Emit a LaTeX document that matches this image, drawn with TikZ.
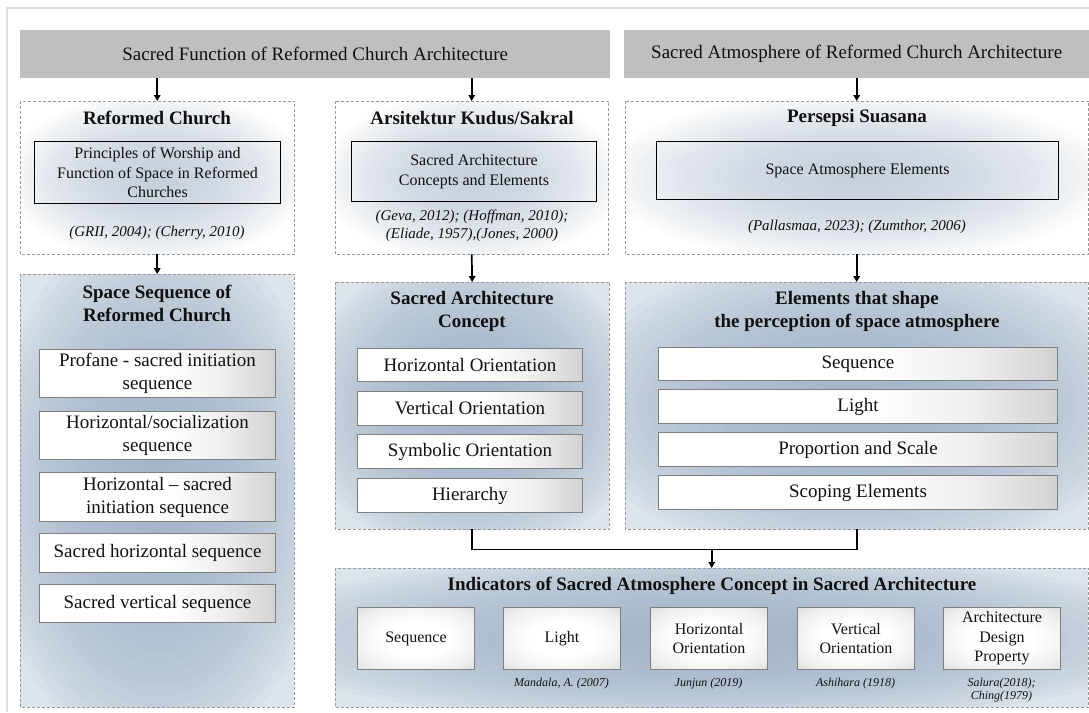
\documentclass[tikz,border=0pt]{standalone}
\usepackage{fontspec}
\setmainfont{Liberation Serif}
\usetikzlibrary{arrows.meta}
\definecolor{bannergray}{HTML}{BFBFBF}
\definecolor{dashgray}{HTML}{9A9A9A}
\definecolor{framegray}{HTML}{DDDDDD}
\definecolor{upin}{HTML}{BCC9D8}
\definecolor{lowin}{HTML}{A2B5CA}
\definecolor{lowout}{HTML}{DDE4EB}
\definecolor{itemedge}{HTML}{7F7F7F}
\definecolor{itemgray}{HTML}{D2D2D2}
\definecolor{itemlight}{HTML}{EFEFEF}
\definecolor{indgray}{HTML}{DCDCDC}
\definecolor{txt}{HTML}{111111}
\pgfdeclarehorizontalshading{itemshade}{100bp}{color(0bp)=(white); color(25bp)=(white); color(52bp)=(white); color(64bp)=(itemlight); color(75bp)=(itemgray); color(100bp)=(itemgray)}
\pgfdeclareradialshading{indshade}{\pgfpoint{0bp}{0bp}}{color(0bp)=(white); color(14bp)=(white); color(28bp)=(itemlight); color(37bp)=(indgray); color(50bp)=(indgray)}
% #1 node, #2 glow colour, #3 base colour, #4 half width, #5 half height, #6 spread, #7 opacity
\newcommand\glowbox[7]{%
  \begin{scope}
    \clip (#1.north west) rectangle (#1.south east);
    \fill[#3] (#1.north west) rectangle (#1.south east);
    \foreach \k in {1,...,25} {
      \pgfmathsetmacro\grx{#6*#4*\k/25}
      \pgfmathsetmacro\gry{#6*#5*\k/25}
      \fill[#2, opacity=#7] (#1.center) ellipse [x radius=\grx pt, y radius=\gry pt];
    }
  \end{scope}
  \draw[dashbord] (#1.north west) rectangle (#1.south east);
}
\tikzset{
  banner/.style={fill=bannergray, draw=none, anchor=north west, inner sep=0pt, text=txt,
    font=\fontsize{19}{23}\selectfont},
  cont/.style={draw=none, anchor=north west, inner sep=0pt},
  dashbord/.style={draw=dashgray, dash pattern=on 3pt off 2pt, line width=0.8pt},
  ttl/.style={font=\fontsize{19}{23}\selectfont\bfseries, align=center, text=txt, inner sep=0pt},
  inbox/.style={draw=black, line width=1.1pt, anchor=north west, inner sep=0pt, align=center, text=txt,
    font=\fontsize{16}{19.8}\selectfont},
  cite/.style={font=\fontsize{15}{18}\selectfont\itshape, align=center, text=txt, inner sep=0pt},
  item/.style={draw=itemedge, line width=1pt, anchor=north west, inner sep=0pt, align=center, text=txt,
    shade, shading=itemshade, font=\fontsize{19}{23}\selectfont},
  ind/.style={draw=itemedge, line width=1pt, anchor=north west, inner sep=0pt, align=center, text=txt,
    shade, shading=indshade, minimum width=117pt, minimum height=62pt,
    font=\fontsize{16}{19.5}\selectfont},
  smcite/.style={font=\fontsize{12}{13}\selectfont\itshape, align=center, text=txt, inner sep=0pt},
  arr/.style={draw=black, line width=1.7pt, -{Triangle[length=6pt,width=6.5pt]}},
  conn/.style={draw=black, line width=1.7pt}
}
\begin{document}
\begin{tikzpicture}[x=1pt,y=-1pt]
\useasboundingbox (0,0) rectangle (1089,712);
\fill[white] (0,0) rectangle (1089,712);
\draw[framegray, line width=2pt] (7,712) -- (7,8) -- (1089,8);

% banners
\node[banner, minimum width=590pt, minimum height=48pt] (b1) at (20,30) {Sacred Function of Reformed Church Architecture};
\node[banner, minimum width=465pt, minimum height=48pt] (b2) at (624,30) {Sacred Atmosphere of Reformed Church Architecture};

% upper containers
\node[cont, minimum width=274pt, minimum height=153pt] (rc) at (20,101) {};
\node[cont, minimum width=273pt, minimum height=153pt] (ak) at (335,101) {};
\node[cont, minimum width=463pt, minimum height=153pt] (ps) at (625,101) {};
\glowbox{rc}{upin}{white}{137}{76.5}{1.1}{0.06}
\glowbox{ak}{upin}{white}{136.5}{76.5}{1.1}{0.06}
\glowbox{ps}{upin}{white}{231.5}{76.5}{1.1}{0.06}

% lower containers
\node[cont, minimum width=274pt, minimum height=433pt] (ss) at (20,274) {};
\node[cont, minimum width=274pt, minimum height=247pt] (sac) at (335,282) {};
\node[cont, minimum width=463pt, minimum height=247pt] (el) at (625,282) {};
\node[cont, minimum width=753pt, minimum height=139pt] (ib) at (335,568) {};
\glowbox{ss}{lowin}{lowout}{137}{216.5}{1.25}{0.085}
\glowbox{sac}{lowin}{lowout}{137}{123.5}{1.25}{0.085}
\glowbox{el}{lowin}{lowout}{231.5}{123.5}{1.25}{0.085}
\glowbox{ib}{lowin}{lowout}{376.5}{69.5}{1.25}{0.085}

% upper titles
\node[ttl] (rct) at (157,118) {Reformed Church};
\node[ttl] (akt) at (472,118) {Arsitektur Kudus/Sakral};
\node[ttl] (pst) at (857,118) {Persepsi Suasana};

% upper inner boxes
\node[inbox, minimum width=246pt, minimum height=62pt] (rci) at (34,141) {Principles of Worship and\\Function of Space in Reformed\\Churches};
\node[inbox, minimum width=245pt, minimum height=60pt] (aki) at (351,141) {Sacred Architecture\\Concepts and Elements};
\node[inbox, minimum width=402pt, minimum height=58pt] (psi) at (656,141) {Space Atmosphere Elements};

% upper citations
\node[cite] (rcc) at (157,233) {(GRII, 2004); (Cherry, 2010)};
\node[cite] (akc) at (472,226) {(Geva, 2012); (Hoffman, 2010);\\(Eliade, 1957),(Jones, 2000)};
\node[cite] (psc) at (857,227) {(Pallasmaa, 2023); (Zumthor, 2006)};

% lower titles
\node[ttl] (sst) at (157,303.5) {Space Sequence of\\Reformed Church};
\node[ttl] (sact) at (472,311.5) {Sacred Architecture\\Concept};
\node[ttl] (elt) at (857,311.5) {Elements that shape\\the perception of space atmosphere};
\node[ttl] (ibt) at (712,586) {Indicators of Sacred Atmosphere Concept in Sacred Architecture};

% space sequence items
\node[item, minimum width=236pt, minimum height=48pt] (s1) at (39,349) {Profane - sacred initiation\\sequence};
\node[item, minimum width=236pt, minimum height=48pt] (s2) at (39,411) {Horizontal/socialization\\sequence};
\node[item, minimum width=236pt, minimum height=49pt] (s3) at (39,472) {Horizontal -- sacred\\initiation sequence};
\node[item, minimum width=236pt, minimum height=39pt] (s4) at (39,533) {Sacred horizontal sequence};
\node[item, minimum width=236pt, minimum height=38pt] (s5) at (39,584) {Sacred vertical sequence};

% sacred architecture concept items
\node[item, minimum width=225pt, minimum height=33pt] (c1) at (357,348) {Horizontal Orientation};
\node[item, minimum width=225pt, minimum height=34pt] (c2) at (357,391) {Vertical Orientation};
\node[item, minimum width=225pt, minimum height=34pt] (c3) at (357,434) {Symbolic Orientation};
\node[item, minimum width=225pt, minimum height=34pt] (c4) at (357,478) {Hierarchy};

% elements items
\node[item, minimum width=399pt, minimum height=33pt] (e1) at (658,347) {Sequence};
\node[item, minimum width=399pt, minimum height=34pt] (e2) at (658,389) {Light};
\node[item, minimum width=399pt, minimum height=34pt] (e3) at (658,432) {Proportion and Scale};
\node[item, minimum width=399pt, minimum height=34pt] (e4) at (658,475) {Scoping Elements};

% indicator items
\node[ind] (i1) at (357,607) {Sequence};
\node[ind] (i2) at (503,607) {Light};
\node[ind] (i3) at (650,607) {Horizontal\\Orientation};
\node[ind] (i4) at (797,607) {Vertical\\Orientation};
\node[ind] (i5) at (943,607) {Architecture\\Design\\Property};

\node[smcite] (i2c) at (561.5,684) {Mandala, A. (2007)};
\node[smcite] (i3c) at (708.5,684) {Junjun (2019)};
\node[smcite] (i4c) at (855.5,684) {Ashihara (1918)};
\node[smcite] (i5c) at (1001.5,690.5) {Salura(2018);\\Ching(1979)};

% arrows
\draw[arr] (rc.north |- b1.south) -- (rc.north);
\draw[arr] (ak.north |- b1.south) -- (ak.north);
\draw[arr] (ps.north |- b2.south) -- (ps.north);
\draw[arr] (rc.south) -- (ss.north);
\draw[arr] (ak.south) -- (sac.north);
\draw[arr] (ps.south) -- (el.north);
\path (sac.south) ++(0,20) coordinate (jl);
\draw[conn] (sac.south) -- (jl) -| (el.south);
\draw[arr] (ib.north |- jl) -- (ib.north);
\end{tikzpicture}
\end{document}
